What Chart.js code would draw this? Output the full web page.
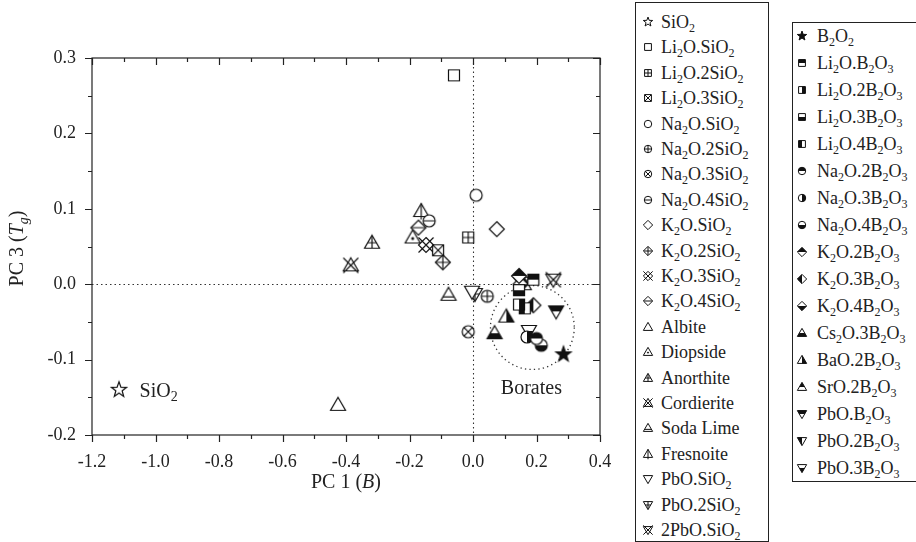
<!DOCTYPE html>
<html>
<head>
<meta charset="utf-8">
<script src="https://cdn.jsdelivr.net/npm/chart.js@4.4.0/dist/chart.umd.min.js"></script>
<style>
  html, body { margin: 0; padding: 0; background: #fff; }
  #wrap { position: absolute; left: 0; top: 0; width: 916px; height: 542px; overflow: hidden; }
  #chartBox { position: absolute; left: 0; top: 0; width: 916px; height: 542px; }
  .legend { position: absolute; border: 1.2px solid #222; background: #fff; font-family: "Liberation Serif", serif; font-size: 18px; color: #222; }
  .row { position: absolute; left: 0; height: 20px; line-height: 20px; white-space: nowrap; }
  .row canvas { position: absolute; top: 2px; }
  .row span { position: absolute; top: 0; }
  .row sub { font-size: 12px; vertical-align: -4px; line-height: 0; }
</style>
</head>
<body>
<div id="wrap">
  <div id="chartBox"><canvas id="pcaChart"></canvas></div>
  <div id="legend1" class="legend"></div>
  <div id="legend2" class="legend"></div>
</div>
<script>
// silicate glasses
const silicateNames = ['SiO2', 'Li2O.SiO2', 'Li2O.2SiO2', 'Li2O.3SiO2', 'Na2O.SiO2', 'Na2O.2SiO2',
    'Na2O.3SiO2', 'Na2O.4SiO2', 'K2O.SiO2', 'K2O.2SiO2', 'K2O.3SiO2', 'K2O.4SiO2', 'Albite',
    'Diopside', 'Anorthite', 'Cordierite', 'Soda Lime', 'Fresnoite', 'PbO.SiO2', 'PbO.2SiO2', '2PbO.SiO2'];
const silicatePC1 = [-1.115, -0.060, -0.015, -0.110, 0.010, 0.045, -0.015, -0.138, 0.075, -0.095,
    -0.148, -0.172, -0.425, -0.190, -0.318, -0.385, -0.077, -0.163, -0.003, 0.006, 0.253];
const silicatePC3 = [-0.140, 0.277, 0.062, 0.045, 0.118, -0.016, -0.063, 0.084, 0.073, 0.029,
    0.052, 0.075, -0.160, 0.062, 0.055, 0.025, -0.014, 0.097, -0.010, -0.013, 0.006];

// borate glasses
const borateNames = ['B2O2', 'Li2O.B2O3', 'Li2O.2B2O3', 'Li2O.3B2O3', 'Li2O.4B2O3', 'Na2O.2B2O3',
    'Na2O.3B2O3', 'Na2O.4B2O3', 'K2O.2B2O3', 'K2O.3B2O3', 'K2O.4B2O3', 'Cs2O.3B2O3', 'BaO.2B2O3',
    'SrO.2B2O3', 'PbO.B2O3', 'PbO.2B2O3', 'PbO.3B2O3'];
const boratePC1 = [0.285, 0.190, 0.145, 0.145, 0.163, 0.200, 0.170, 0.215, 0.145, 0.190, 0.150,
    0.068, 0.105, 0.160, 0.262, 0.153, 0.176];
const boratePC3 = [-0.093, 0.006, -0.027, -0.008, -0.032, -0.072, -0.070, -0.081, 0.011, -0.028, 0.000,
    -0.065, -0.043, 0.000, -0.036, 0.002, -0.062];

const xTicks = [-1.2, -1.0, -0.8, -0.6, -0.4, -0.2, 0.0, 0.2, 0.4];
const yTicks = [-0.2, -0.1, 0.0, 0.1, 0.2, 0.3];

// marker shape + decoration for each entry
const silicateMarkers = [['star', ''], ['square', ''], ['square', 'plus'], ['square', 'x'], ['circle', ''],
    ['circle', 'plus'], ['circle', 'x'], ['circle', 'minus'], ['diamond', ''], ['diamond', 'plus'],
    ['diamond', 'bigx'], ['diamond', 'minus'], ['tri', ''], ['tri', 'dot'], ['tri', 'plus'], ['tri', 'bigx'],
    ['tri', 'lowline'], ['tri', 'vline'], ['tdown', ''], ['tdown', 'plus'], ['tdown', 'bigx']];
const borateMarkers = [['star', 'fill'], ['square', 'top'], ['square', 'right'], ['square', 'bottom'],
    ['square', 'left'], ['circle', 'top'], ['circle', 'right'], ['circle', 'bottom'], ['diamond', 'top'],
    ['diamond', 'left'], ['diamond', 'bottom'], ['tri', 'bottom'], ['tri', 'right'], ['tri', 'top'],
    ['tdown', 'top'], ['tdown', 'left'], ['tdown', 'bottom']];

const FONT = '"Liberation Serif", "DejaVu Serif", serif';
const INK = '#222';

function shapePath(ctx, shape, k) {
    ctx.beginPath();
    if (shape === 'square') {
        const a = 5.5 * k;
        ctx.rect(-a, -a, 2 * a, 2 * a);
    } else if (shape === 'circle') {
        ctx.arc(0, 0, 6 * k, 0, Math.PI * 2);
    } else if (shape === 'diamond') {
        const a = 7.5 * k;
        ctx.moveTo(0, -a); ctx.lineTo(a, 0); ctx.lineTo(0, a); ctx.lineTo(-a, 0); ctx.closePath();
    } else if (shape === 'tri' || shape === 'tdown') {
        const w = 7.5 * k, t = 7.5 * k, b = 5.5 * k, d = shape === 'tri' ? 1 : -1;
        ctx.moveTo(0, -t * d); ctx.lineTo(w, b * d); ctx.lineTo(-w, b * d); ctx.closePath();
    } else {
        for (let i = 0; i < 10; i++) {
            const r = (i % 2 ? 3.3 : 8) * k;
            const ang = -Math.PI / 2 + i * Math.PI / 5;
            ctx.lineTo(Math.cos(ang) * r, Math.sin(ang) * r);
        }
        ctx.closePath();
    }
}

function makeMarker(shape, deco, k) {
    const size = Math.ceil(22 * k) + 4;
    const c = document.createElement('canvas');
    c.width = size; c.height = size;
    const ctx = c.getContext('2d');
    ctx.translate(size / 2, size / 2);
    ctx.strokeStyle = '#111';
    ctx.fillStyle = '#111';
    ctx.lineWidth = k < 1 ? 1 : 1.2;
    shapePath(ctx, shape, k);
    ctx.fillStyle = '#fff';
    ctx.fill();
    ctx.fillStyle = '#111';
    const halves = { top: [-20, -20, 40, 20], bottom: [-20, 0, 40, 20], left: [-20, -20, 20, 40], right: [0, -20, 20, 40] };
    if (halves[deco]) {
        ctx.save();
        shapePath(ctx, shape, k);
        ctx.clip();
        ctx.fillRect(...halves[deco]);
        ctx.restore();
    } else if (deco === 'fill') {
        shapePath(ctx, shape, k);
        ctx.fill();
    } else if (deco) {
        const a = 9 * k;
        ctx.save();
        if (deco !== 'bigx' && deco !== 'vline') {
            shapePath(ctx, shape, k);
            ctx.clip();
        }
        ctx.beginPath();
        if (deco === 'plus') {
            ctx.moveTo(-a, 0); ctx.lineTo(a, 0); ctx.moveTo(0, -a); ctx.lineTo(0, a);
        } else if (deco === 'x') {
            ctx.moveTo(-a, -a); ctx.lineTo(a, a); ctx.moveTo(a, -a); ctx.lineTo(-a, a);
        } else if (deco === 'bigx') {
            const b = 7.5 * k;
            ctx.moveTo(-b, -b); ctx.lineTo(b, b); ctx.moveTo(b, -b); ctx.lineTo(-b, b);
        } else if (deco === 'minus') {
            ctx.moveTo(-a, 0); ctx.lineTo(a, 0);
        } else if (deco === 'lowline') {
            ctx.moveTo(-a, 2.2 * k); ctx.lineTo(a, 2.2 * k);
        } else if (deco === 'vline') {
            ctx.moveTo(0, -7.5 * k); ctx.lineTo(0, 8.5 * k);
        } else if (deco === 'dot') {
            ctx.arc(0, 1 * k, 0.9 * k, 0, Math.PI * 2);
            ctx.fill();
        }
        ctx.stroke();
        ctx.restore();
    }
    shapePath(ctx, shape, k);
    ctx.stroke();
    return c;
}

function richLabel(name) {
    return name.replace(/([A-Za-z\)])(\d+)/g, '$1<sub>$2</sub>');
}

function buildDatasets(names, xs, ys, markers) {
    return names.map((name, i) => ({
        label: name,
        data: [{ x: xs[i], y: ys[i] }],
        pointStyle: makeMarker(markers[i][0], markers[i][1], 1),
        pointRadius: 7,
        pointHoverRadius: 7
    }));
}

function buildLegend(id, names, markers, box, rows) {
    const el = document.getElementById(id);
    Object.assign(el.style, { left: box.left + 'px', top: box.top + 'px', width: box.width + 'px', height: box.height + 'px' });
    names.forEach((name, i) => {
        const row = document.createElement('div');
        row.className = 'row';
        row.style.top = (rows.first + i * rows.step - 10 - box.top) + 'px';
        row.style.width = box.width + 'px';
        const icon = makeMarker(markers[i][0], markers[i][1], 0.62);
        icon.style.left = (rows.iconX - box.left - icon.width / 2) + 'px';
        icon.style.top = (10 - icon.height / 2) + 'px';
        const txt = document.createElement('span');
        txt.style.left = (rows.textX - box.left) + 'px';
        txt.innerHTML = richLabel(name);
        row.appendChild(icon);
        row.appendChild(txt);
        el.appendChild(row);
    });
}

// draws a run of text pieces centred on (x, y)
function drawRich(ctx, parts, x, y, size) {
    const fontOf = p => (p.italic ? 'italic ' : '') + (p.sub ? size * 0.7 : size) + 'px ' + FONT;
    let total = 0;
    parts.forEach(p => { ctx.font = fontOf(p); total += ctx.measureText(p.t).width; });
    let cx = x - total / 2;
    ctx.textBaseline = 'middle';
    ctx.textAlign = 'left';
    parts.forEach(p => {
        ctx.font = fontOf(p);
        ctx.fillText(p.t, cx, y + (p.sub ? size * 0.3 : 0));
        cx += ctx.measureText(p.t).width;
    });
}

const borateRing = { x: 0.187, y: -0.0574, rx: 0.132, ry: 0.0557 };

const framePlugin = {
    id: 'frame',
    beforeDatasetsDraw(chart) {
        const { ctx, chartArea: a, scales: { x, y } } = chart;
        ctx.save();
        ctx.strokeStyle = '#333';
        ctx.lineWidth = 1.1;
        ctx.setLineDash([1.5, 3]);
        ctx.beginPath();
        const x0 = Math.round(x.getPixelForValue(0)) + 0.5;
        const y0 = Math.round(y.getPixelForValue(0)) + 0.5;
        ctx.moveTo(x0, a.top); ctx.lineTo(x0, a.bottom);
        ctx.moveTo(a.left, y0); ctx.lineTo(a.right, y0);
        ctx.stroke();
        const cx = x.getPixelForValue(borateRing.x), cy = y.getPixelForValue(borateRing.y);
        const rx = x.getPixelForValue(borateRing.x + borateRing.rx) - cx;
        const ry = cy - y.getPixelForValue(borateRing.y + borateRing.ry);
        ctx.lineWidth = 1.3;
        ctx.setLineDash([1.3, 3.2]);
        ctx.beginPath();
        ctx.ellipse(cx, cy, rx, ry, 0, 0, Math.PI * 2);
        ctx.stroke();
        ctx.restore();
    },
    afterDraw(chart) {
        const { ctx, chartArea: a, scales: { x, y } } = chart;
        ctx.save();
        ctx.strokeStyle = INK;
        ctx.lineWidth = 1.2;
        ctx.strokeRect(a.left, a.top, a.right - a.left, a.bottom - a.top);
        ctx.beginPath();
        for (let i = -12; i <= 4; i++) {
            const px = Math.round(x.getPixelForValue(i / 10)) + 0.5;
            const len = i % 2 === 0 ? 7 : 4;
            ctx.moveTo(px, a.bottom); ctx.lineTo(px, a.bottom + len);
            ctx.moveTo(px, a.top); ctx.lineTo(px, a.top + len);
        }
        for (let i = -20; i <= 30; i += 5) {
            const py = Math.round(y.getPixelForValue(i / 100)) + 0.5;
            const len = i % 10 === 0 ? 7 : 4;
            ctx.moveTo(a.left, py); ctx.lineTo(a.left - len, py);
            ctx.moveTo(a.right, py); ctx.lineTo(a.right - len, py);
        }
        ctx.stroke();

        ctx.fillStyle = INK;
        drawRich(ctx, [{ t: 'PC 1 (' }, { t: 'B', italic: true }, { t: ')' }], (a.left + a.right) / 2, 483, 20);
        ctx.save();
        ctx.translate(18, (a.top + a.bottom) / 2 + 2);
        ctx.rotate(-Math.PI / 2);
        drawRich(ctx, [{ t: 'PC 3 (' }, { t: 'T', italic: true }, { t: 'g', italic: true, sub: true }, { t: ')' }], 0, 0, 20);
        ctx.restore();

        drawRich(ctx, [{ t: 'SiO' }, { t: '2', sub: true }], x.getPixelForValue(-0.99), y.getPixelForValue(-0.142), 20);
        drawRich(ctx, [{ t: 'Borates' }], x.getPixelForValue(0.184), y.getPixelForValue(-0.139), 20);
        ctx.restore();
    }
};

document.addEventListener('DOMContentLoaded', function() {
    const datasets = buildDatasets(silicateNames, silicatePC1, silicatePC3, silicateMarkers)
        .concat(buildDatasets(borateNames, boratePC1, boratePC3, borateMarkers));

    const tickFont = { family: FONT, size: 18 };
    const fmt = v => (Math.abs(v) < 1e-9 ? 0 : v).toFixed(1);

    new Chart(document.getElementById('pcaChart'), {
        type: 'scatter',
        data: { datasets: datasets },
        options: {
            responsive: true,
            maintainAspectRatio: false,
            animation: false,
            layout: { padding: { left: 0, top: 58, right: 316, bottom: 62 } },
            plugins: { legend: { display: false }, tooltip: { enabled: false } },
            scales: {
                x: {
                    type: 'linear',
                    min: xTicks[0],
                    max: xTicks[xTicks.length - 1],
                    afterBuildTicks: s => { s.ticks = xTicks.map(v => ({ value: v })); },
                    afterFit: s => { s.height = 45; },
                    grid: { display: false, drawTicks: false },
                    border: { display: false },
                    ticks: { font: tickFont, color: INK, padding: 16, maxRotation: 0, autoSkip: false, callback: fmt }
                },
                y: {
                    type: 'linear',
                    min: yTicks[0],
                    max: yTicks[yTicks.length - 1],
                    afterBuildTicks: s => { s.ticks = yTicks.map(v => ({ value: v })); },
                    afterFit: s => { s.width = 92; },
                    grid: { display: false, drawTicks: false },
                    border: { display: false },
                    ticks: { font: tickFont, color: INK, padding: 16, autoSkip: false, callback: fmt }
                }
            }
        },
        plugins: [framePlugin]
    });

    buildLegend('legend1', silicateNames, silicateMarkers,
        { left: 635, top: 2, width: 132, height: 538 }, { first: 21, step: 25.4, iconX: 647, textX: 660 });
    buildLegend('legend2', borateNames, borateMarkers,
        { left: 792, top: 22, width: 140, height: 458 }, { first: 35, step: 27, iconX: 801, textX: 816 });
});
</script>
</body>
</html>
